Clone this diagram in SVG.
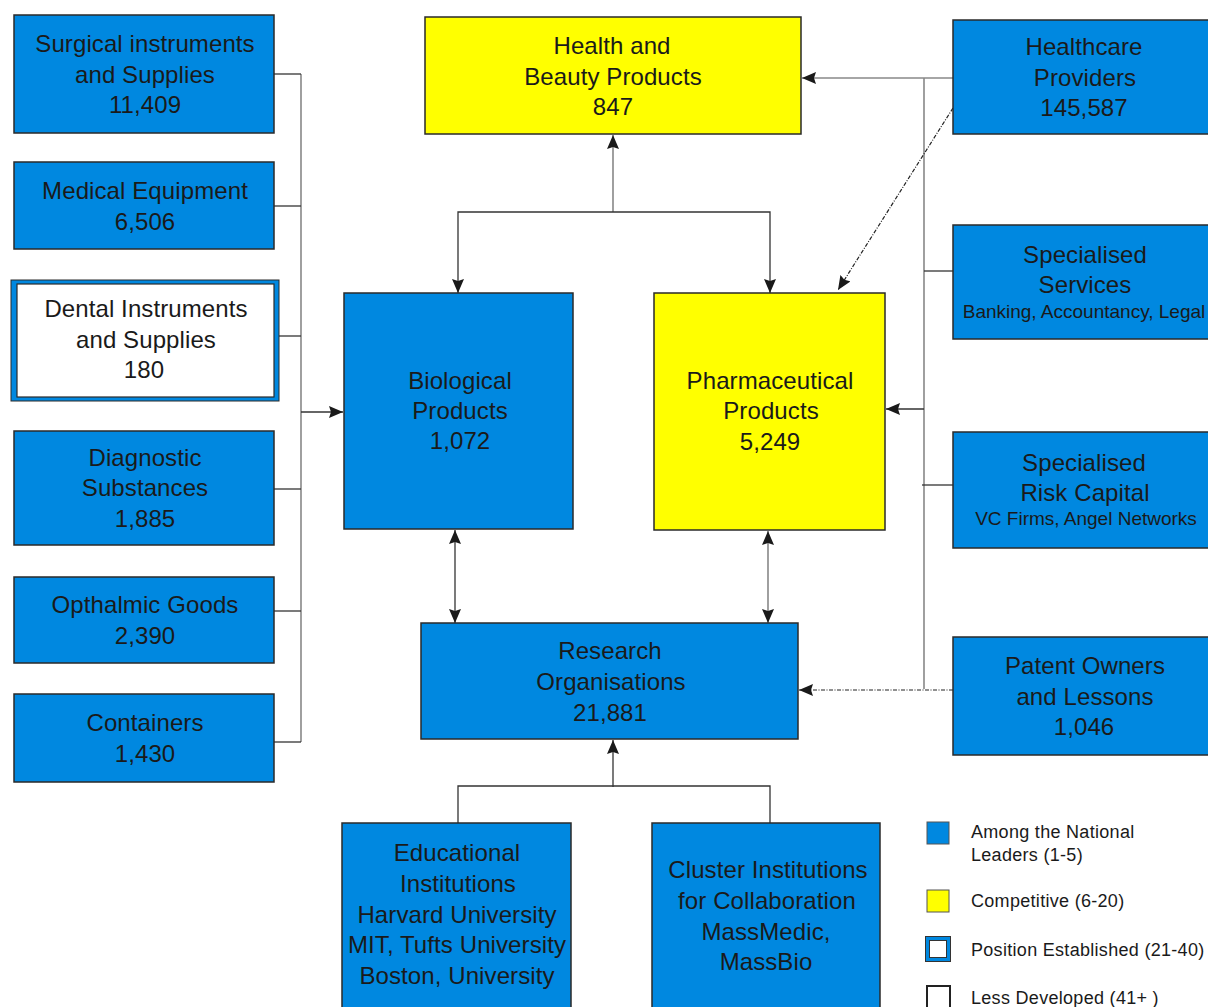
<svg xmlns="http://www.w3.org/2000/svg" width="1208" height="1007" viewBox="0 0 1208 1007">
<style>
  .blue{fill:#0088E0;stroke:#2a2a2a;stroke-width:1.5}
  .yel{fill:#FFFF00;stroke:#2a2a2a;stroke-width:1.5}
  .t{font-family:"Liberation Sans",Arial,sans-serif;font-size:24px;fill:#1a1a1a;text-anchor:middle;letter-spacing:0.1px}
  .s{font-family:"Liberation Sans",Arial,sans-serif;font-size:19px;fill:#1a1a1a;text-anchor:middle}
  .lg{font-family:"Liberation Sans",Arial,sans-serif;font-size:18px;fill:#1a1a1a;letter-spacing:0.3px}
  .c{fill:none;stroke:#333;stroke-width:1.3}
  .g{fill:none;stroke:#888;stroke-width:1.6}
  .d{fill:none;stroke:#222;stroke-width:1.2;stroke-dasharray:4 1.5 1 1.5}
</style>
<defs>
  <marker id="ah" viewBox="0 0 14 12" refX="14" refY="6" markerWidth="14" markerHeight="12" markerUnits="userSpaceOnUse" orient="auto-start-reverse">
    <path d="M0,0 L14,6 L0,12 L2,6 Z" fill="#1a1a1a"/>
  </marker>
</defs>
<rect width="1208" height="1007" fill="#ffffff"/>

<g id="connectors">
  <line class="g" x1="301" y1="74" x2="301" y2="742"/>
  <line class="c" x1="274" y1="74" x2="301" y2="74"/>
  <line class="c" x1="274" y1="206" x2="301" y2="206"/>
  <line class="c" x1="279" y1="336" x2="301" y2="336"/>
  <line class="c" x1="274" y1="489" x2="301" y2="489"/>
  <line class="c" x1="274" y1="611" x2="301" y2="611"/>
  <line class="c" x1="274" y1="742" x2="301" y2="742"/>
  <line class="c" x1="301" y1="412" x2="343" y2="412" marker-end="url(#ah)"/>
  <line class="g" x1="613" y1="212" x2="613" y2="135" marker-end="url(#ah)"/>
  <polyline class="c" points="458,293 458,212 770,212 770,293" marker-start="url(#ah)" marker-end="url(#ah)"/>
  <line class="c" x1="455" y1="530" x2="455" y2="623" marker-start="url(#ah)" marker-end="url(#ah)"/>
  <line class="g" x1="768" y1="531" x2="768" y2="623" marker-start="url(#ah)" marker-end="url(#ah)"/>
  <line class="c" x1="613" y1="787" x2="613" y2="740" marker-end="url(#ah)"/>
  <polyline class="c" points="458,823 458,786 770,786 770,823"/>
  <line class="g" x1="924" y1="78" x2="924" y2="689"/>
  <line class="g" x1="953" y1="78" x2="802" y2="78" marker-end="url(#ah)"/>
  <line class="c" x1="924" y1="271" x2="953" y2="271"/>
  <line class="c" x1="924" y1="409" x2="886" y2="409" marker-end="url(#ah)"/>
  <line class="c" x1="922" y1="485" x2="953" y2="485"/>
  <line class="d" x1="953" y1="690" x2="799" y2="690" marker-end="url(#ah)"/>
  <line class="d" x1="953" y1="108" x2="838" y2="290" marker-end="url(#ah)"/>
</g>

<g id="surgical">
  <rect class="blue" x="14" y="15" width="260" height="118"/>
  <text class="t" x="145" y="52">Surgical instruments</text>
  <text class="t" x="145" y="83">and Supplies</text>
  <text class="t" x="145" y="113">11,409</text>
</g>
<g id="medical">
  <rect class="blue" x="14" y="162" width="260" height="87"/>
  <text class="t" x="145" y="199">Medical Equipment</text>
  <text class="t" x="145" y="230">6,506</text>
</g>
<g id="dental">
  <rect x="11" y="280" width="268" height="121" fill="#0088E0" stroke="#2a2a2a" stroke-width="1"/>
  <rect x="17" y="284" width="257" height="113" fill="#ffffff" stroke="#2a2a2a" stroke-width="1.2"/>
  <text class="t" x="146" y="317">Dental Instruments</text>
  <text class="t" x="146" y="348">and Supplies</text>
  <text class="t" x="144" y="378">180</text>
</g>
<g id="diagnostic">
  <rect class="blue" x="14" y="431" width="260" height="114"/>
  <text class="t" x="145" y="466">Diagnostic</text>
  <text class="t" x="145" y="496">Substances</text>
  <text class="t" x="145" y="527">1,885</text>
</g>
<g id="opthalmic">
  <rect class="blue" x="14" y="577" width="260" height="86"/>
  <text class="t" x="145" y="613">Opthalmic Goods</text>
  <text class="t" x="145" y="644">2,390</text>
</g>
<g id="containers">
  <rect class="blue" x="14" y="694" width="260" height="88"/>
  <text class="t" x="145" y="731">Containers</text>
  <text class="t" x="145" y="762">1,430</text>
</g>

<g id="health-beauty">
  <rect class="yel" x="425" y="17" width="376" height="117"/>
  <text class="t" x="612" y="54">Health and</text>
  <text class="t" x="613" y="85">Beauty Products</text>
  <text class="t" x="613" y="115">847</text>
</g>
<g id="biological">
  <rect class="blue" x="344" y="293" width="229" height="236"/>
  <text class="t" x="460" y="389">Biological</text>
  <text class="t" x="460" y="419">Products</text>
  <text class="t" x="460" y="449">1,072</text>
</g>
<g id="pharmaceutical">
  <rect class="yel" x="654" y="293" width="231" height="237"/>
  <text class="t" x="770" y="389">Pharmaceutical</text>
  <text class="t" x="771" y="419">Products</text>
  <text class="t" x="770" y="450">5,249</text>
</g>
<g id="research">
  <rect class="blue" x="421" y="623" width="377" height="116"/>
  <text class="t" x="610" y="659">Research</text>
  <text class="t" x="611" y="690">Organisations</text>
  <text class="t" x="610" y="721">21,881</text>
</g>
<g id="educational">
  <rect class="blue" x="342" y="823" width="229" height="190"/>
  <text class="t" x="457" y="861">Educational</text>
  <text class="t" x="458" y="892">Institutions</text>
  <text class="t" x="457" y="923">Harvard University</text>
  <text class="t" x="457" y="953">MIT, Tufts University</text>
  <text class="t" x="457" y="984">Boston, University</text>
</g>
<g id="cluster">
  <rect class="blue" x="652" y="823" width="228" height="190"/>
  <text class="t" x="768" y="878">Cluster Institutions</text>
  <text class="t" x="767" y="909">for Collaboration</text>
  <text class="t" x="766" y="940">MassMedic,</text>
  <text class="t" x="766" y="970">MassBio</text>
</g>

<g id="healthcare">
  <rect class="blue" x="953" y="20" width="260" height="114"/>
  <text class="t" x="1084" y="55">Healthcare</text>
  <text class="t" x="1085" y="86">Providers</text>
  <text class="t" x="1084" y="116">145,587</text>
</g>
<g id="services">
  <rect class="blue" x="953" y="225" width="260" height="114"/>
  <text class="t" x="1085" y="263">Specialised</text>
  <text class="t" x="1085" y="293">Services</text>
  <text class="s" x="1084" y="318">Banking, Accountancy, Legal</text>
</g>
<g id="risk-capital">
  <rect class="blue" x="953" y="432" width="260" height="116"/>
  <text class="t" x="1084" y="471">Specialised</text>
  <text class="t" x="1085" y="501">Risk Capital</text>
  <text class="s" x="1086" y="525">VC Firms, Angel Networks</text>
</g>
<g id="patent">
  <rect class="blue" x="953" y="637" width="260" height="118"/>
  <text class="t" x="1085" y="674">Patent Owners</text>
  <text class="t" x="1085" y="705">and Lessons</text>
  <text class="t" x="1084" y="735">1,046</text>
</g>

<g id="legend">
  <rect x="927" y="822" width="22" height="22" fill="#0088E0" stroke="#555" stroke-width="1"/>
  <text class="lg" x="971" y="838">Among the National</text>
  <text class="lg" x="971" y="861">Leaders (1-5)</text>
  <rect x="927" y="890" width="22" height="22" fill="#FFFF00" stroke="#555" stroke-width="1"/>
  <text class="lg" x="971" y="907">Competitive (6-20)</text>
  <rect x="925.5" y="936.5" width="25" height="25" fill="#0088E0" stroke="#333" stroke-width="1"/>
  <rect x="929.5" y="940.5" width="17" height="17" fill="#ffffff" stroke="#333" stroke-width="1"/>
  <text class="lg" x="971" y="956">Position Established (21-40)</text>
  <rect x="927" y="986" width="23" height="24" fill="#ffffff" stroke="#222" stroke-width="2"/>
  <text class="lg" x="971" y="1004">Less Developed (41+ )</text>
</g>
</svg>
